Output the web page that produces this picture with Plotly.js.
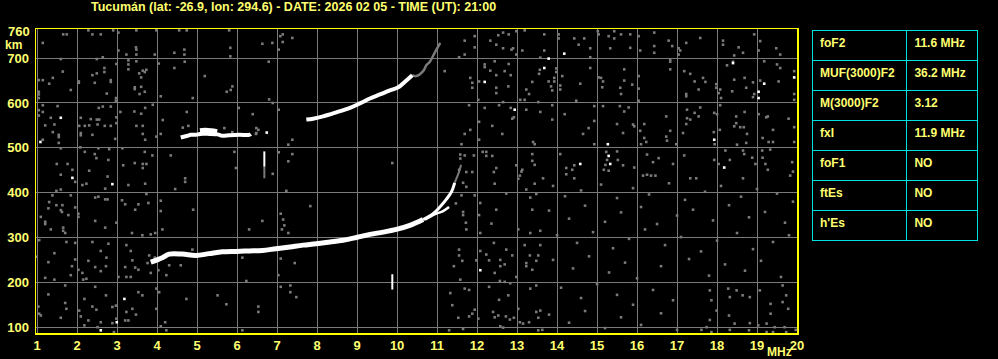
<!DOCTYPE html>
<html><head><meta charset="utf-8">
<script src="https://cdn.plot.ly/plotly-3.0.1.min.js"></script>
<style>html,body{margin:0;padding:0;background:#000;}</style>
</head><body><div id="chart" style="width:998px;height:359px;"></div>
<script>
// ---- data (frequency MHz, virtual height km) ----
var titleText = "Tucumán (lat: -26.9, lon: 294.6) - DATE: 2026 02 05 - TIME (UT): 21:00";
var xTicks = [1,2,3,4,5,6,7,8,9,10,11,12,13,14,15,16,17,18,19,20];
var yTicks = [100,200,300,400,500,600,700];

// ordinary F2 trace (main thick part)
var oF = [3.84,4.13,4.30,4.63,4.97,5.30,5.63,5.97,6.30,6.63,6.97,7.32,7.65,7.98,8.32,8.65,8.98,9.32,9.65,9.98,10.32,10.65];
var oH = [245,255,263,263,260,264,268,269,270,271,275,279,283,286,290,294,300,307,312,318,327,340];
// upper branch near critical frequency
var o2F = [10.65,10.90,11.07,11.23,11.36,11.44];
var o2H = [340,353,368,385,402,422];
// faint top end
var o3F = [11.44,11.50,11.55,11.60];
var o3H = [422,435,447,462];
// lower (extraordinary) branch
var xF = [10.70,10.82,10.98,11.15,11.30];
var xH = [340,346,353,359,368];
// second hop trace
var mF = [7.73,7.90,8.15,8.48,8.82,9.07,9.32,9.57,9.82,10.03,10.19,10.38];
var mH = [563,565,570,579,589,599,610,619,628,635,647,662];
var m2F = [10.38,10.48,10.65,10.73,10.82,10.94,11.08];
var m2H = [662,660,671,684,692,712,734];
// trace near 530 km
var eF = [4.59,4.76,4.84,4.97,5.07,5.30,5.51,5.63,5.80,6.05,6.30,6.34];
var eH = [523,527,529,529,531,531,530,527,528,529,529,531];
var e2F = [5.07,5.20,5.35,5.50];
var e2H = [538,539,538,536];
// vertical echoes
var v1F = [6.68,6.68];
var v1H = [458,492];
var v1gF = [6.68,6.68];
var v1gH = [432,458];
var v2F = [9.88,9.88];
var v2H = [184,218];

// gray noise
var nF = [1.65,1.74,2.28,2.38,2.59,2.90,3.03,3.48,3.98,4.55,4.74,5.80,7.14,7.08,1.14,3.47,3.48,3.03,3.23,3.48,3.94,4.43,4.68,4.68,5.83,6.63,6.88,7.14,7.04,5.83,
1.59,2.49,2.64,3.28,3.28,3.28,3.48,2.98,4.04,4.69,4.43,6.79,1.64,2.68,2.68,2.49,2.38,2.04,2.04,2.44,2.84,2.84,3.55,3.60,3.64,3.73,3.69,1.39,1.14,1.30,1.04,5.19,
3.44,3.44,3.60,3.69,3.56,1.04,1.04,1.04,1.84,2.74,4.09,4.89,5.88,5.84,5.74,6.80,6.89,2.97,2.97,1.14,1.51,2.54,2.64,2.84,3.89,3.08,3.43,3.60,3.70,1.04,1.14,1.04,1.34,
2.09,2.34,2.49,2.55,2.98,2.98,4.74,4.14,6.04,6.39,7.04,1.20,1.43,2.05,2.19,2.30,2.51,2.69,2.84,3.48,3.64,4.64,4.78,5.68,6.48,6.48,6.53,1.39,1.54,1.54,1.14,2.09,2.09,2.38,3.64,3.70,2.95,3.98,4.09,5.88,6.47,
1.54,1.59,2.08,2.53,2.80,3.13,3.69,3.88,4.34,2.19,2.44,2.48,2.78,1.49,1.76,2.30,1.88,1.59,2.76,3.15,3.44,3.64,3.73,3.64,4.70,5.93,7.04,6.89,7.28,7.28,5.97,
7.38,11.69,11.94,11.94,12.33,12.53,12.65,12.79,12.98,13.19,12.48,12.65,12.86,12.90,12.98,13.13,11.69,11.55,13.58,12.19,12.19,12.33,12.44,12.48,12.69,12.79,12.84,13.57,13.55,13.38,11.19,11.83,11.88,11.88,12.05,12.48,12.48,12.78,13.23,13.30,13.08,13.19,13.53,12.65,12.55,12.84,12.88,12.92,13.23,13.58,12.03,11.80,12.19,12.05,12.38,12.63,11.83,11.69,11.61,12.05,13.40,13.44,7.38,7.38,9.88,11.58,11.58,11.69,11.92,12.14,12.23,12.23,12.38,13.38,13.38,13.44,12.48,12.42,13.13,13.11,13.07,12.98,11.55,11.73,11.88,13.65,13.03,
13.68,14.04,14.04,14.43,14.54,14.68,14.83,15.02,15.04,15.29,15.43,15.43,15.60,15.83,15.83,15.33,16.08,16.04,16.43,16.43,16.43,16.79,16.88,17.04,17.08,17.04,17.23,17.58,18.15,18.15,18.54,18.43,18.65,18.93,19.08,19.04,19.48,19.58,13.68,
13.98,13.98,13.79,13.93,13.93,13.85,13.88,14.08,14.08,14.13,14.58,14.83,14.83,15.04,15.10,15.13,15.15,15.58,15.68,15.68,15.88,15.60,16.04,16.04,16.04,16.83,16.83,16.83,17.18,17.33,17.44,17.54,17.65,17.71,17.23,17.23,17.98,17.98,18.08,18.10,18.04,18.25,18.40,18.43,18.38,18.69,18.73,18.90,18.93,18.90,19.18,19.08,19.50,19.58,19.54,19.93,19.93,19.93,
14.48,14.19,13.88,13.88,14.93,14.93,14.79,14.65,14.93,15.15,15.57,15.68,15.79,15.50,15.65,15.90,15.93,16.08,16.18,16.18,16.10,16.23,16.73,16.83,16.73,16.75,16.98,17.15,17.25,17.25,17.33,17.23,17.44,17.54,17.58,17.93,18.00,17.92,18.07,17.94,18.08,18.48,18.48,18.43,18.58,18.67,18.69,18.75,18.73,18.50,19.04,19.23,19.27,19.79,19.93,19.40,19.14,19.29,19.40,19.93,
14.08,14.43,14.23,14.38,14.23,14.43,15.23,15.25,15.21,15.50,15.52,15.65,15.17,15.29,15.93,16.25,16.40,16.54,16.15,16.25,16.35,16.46,16.90,17.18,17.33,17.48,17.93,18.04,18.21,18.32,18.65,18.68,18.88,18.96,19.13,19.33,19.14,19.21,19.27,19.88,19.90,19.83,18.65,
1.95,2.13,2.23,2.70,3.28,3.70,4.45,4.70,1.38,1.48,1.84,1.59,2.53,2.45,2.70,2.76,3.12,3.73,4.09,1.30,1.48,1.63,1.59,1.62,1.28,1.95,2.03,2.03,1.78,1.09,1.20,1.20,1.34,1.65,1.65,1.70,2.45,2.70,2.98,3.20,3.45,3.53,3.78,4.09,4.13,3.37,3.63,3.84,3.95,4.90,6.63,6.30,7.09,7.15,7.18,7.12,7.28,
1.05,1.73,1.95,2.38,2.78,3.23,1.43,1.28,0.98,1.87,1.84,1.43,1.20,1.95,2.03,2.13,2.23,2.15,2.28,2.45,2.59,2.59,2.73,2.72,3.03,3.20,3.23,3.34,3.34,3.38,3.45,3.53,3.80,3.76,3.84,3.94,4.03,4.23,4.30,4.59,4.88,5.32,6.13,7.09,7.03,6.23,7.09,
1.70,1.28,1.03,1.05,1.09,1.59,1.70,1.73,2.05,2.09,2.18,2.28,2.45,2.38,2.48,2.51,2.59,2.72,2.88,2.97,2.98,2.88,2.92,3.23,3.20,3.28,3.38,3.47,3.53,3.63,3.98,3.98,4.05,4.09,4.20,4.23,5.51,5.73,6.13,6.53,6.53,7.23,2.18,4.73,
7.83,7.44,7.33,7.33,7.48,11.65,11.73,11.94,11.61,11.47,11.65,11.65,11.72,11.73,12.08,12.05,12.08,12.36,12.48,12.44,12.73,13.23,13.44,13.48,13.33,13.38,13.03,13.33,13.58,12.42,12.73,12.88,13.19,13.32,13.53,13.58,11.55,11.55,11.63,11.42,11.98,12.08,12.23,12.30,12.58,12.58,12.69,12.44,12.57,12.69,12.83,12.98,13.23,13.23,13.38,13.48,13.33,13.48,11.58,11.69,11.80,12.30,12.55,12.78,13.03,12.92,13.07,13.48,13.53,13.58,12.40,12.44,12.53,12.72,12.58,12.65,11.88,11.80,11.53,11.38,11.33,11.94,11.65,12.03,11.30,12.82,13.15,13.30,13.53,13.63,
13.9,14.2,14.6,15.1,15.5,15.9,16.3,16.8,17.2,17.7,18.1,18.6,19.0,19.5,19.9,13.8,14.3,14.7,15.2,15.6,16.1,16.5,17.0,17.4,17.9,18.3,18.8,19.2,19.7,
14.0,14.5,14.9,15.4,15.8,16.2,16.7,17.1,17.6,18.0,18.5,18.9,19.4,19.8,13.9,14.4,14.8,15.3,15.7,16.0,16.6,17.3,17.8,18.2,18.7,19.1,19.6,
14.1,14.6,15.0,15.5,15.9,16.4,16.9,13.8,14.3,14.7,15.2,15.6,16.1,16.6,17.0,
17.82,17.86,17.99,18.28,18.32,18.49,18.64,18.82,19.07,19.34,19.34,19.64,19.64,19.73,19.78,17.82,17.74,18.30,18.44,18.82,19.03,19.24,19.44,19.69,19.97,17.61,17.86,18.32,18.80,19.24,19.40,19.73];
var nH = [753,753,762,753,753,762,757,762,762,762,762,762,753,749,734,724,719,717,708,708,708,712,719,708,723,732,734,736,719,704,
698,698,702,695,686,675,693,687,688,692,678,692,670,678,669,666,662,648,645,645,651,647,666,657,672,674,669,656,651,643,651,660,
635,631,636,625,620,625,619,611,629,621,615,611,637,629,625,608,600,605,611,595,593,589,592,592,596,580,581,576,589,584,580,572,567,
567,564,563,563,568,555,580,562,589,575,585,550,552,549,549,550,552,549,549,549,549,545,549,544,544,533,540,535,529,524,518,533,528,529,531,518,520,525,531,535,531,
511,499,501,499,497,499,491,483,483,491,486,477,473,464,464,449,451,440,436,461,466,464,464,455,432,491,490,442,507,470,455,
745,739,749,724,739,751,757,753,760,762,730,722,719,722,708,717,708,702,701,686,680,672,693,662,671,687,662,674,665,647,671,656,645,634,648,634,622,637,630,620,607,607,602,602,595,589,565,568,585,580,607,595,589,558,549,531,540,531,508,518,513,508,518,486,466,485,476,483,483,491,491,482,482,486,471,462,455,446,451,447,438,461,451,446,446,432,431,
753,753,744,744,730,744,722,760,753,749,760,744,753,753,723,722,717,749,757,727,712,739,727,722,717,708,734,745,739,730,724,706,712,753,738,717,722,708,717,
677,669,648,648,656,637,628,639,630,660,643,702,678,657,656,635,648,634,675,650,641,620,660,632,605,697,692,675,671,665,648,630,656,647,620,615,642,634,630,611,622,684,692,652,626,656,634,646,620,613,693,650,686,678,648,671,620,607,
605,575,595,563,593,560,544,531,508,593,593,581,590,553,533,552,548,538,553,522,508,513,570,538,525,516,508,533,585,566,563,553,578,570,590,578,575,535,540,508,595,570,555,548,546,546,580,531,511,507,575,568,570,565,546,540,522,513,513,513,
486,461,455,451,441,432,491,473,462,492,473,461,451,449,456,485,468,477,438,440,438,438,464,483,432,432,473,464,494,473,494,486,478,464,494,496,478,464,451,468,447,438,432,
424,417,420,409,417,420,408,424,394,404,394,407,391,389,385,385,383,397,382,379,372,372,361,357,365,367,353,346,350,346,335,330,318,322,315,310,337,322,333,374,362,374,377,359,318,310,305,307,310,362,337,318,353,340,327,318,310,
294,290,288,290,286,283,265,245,257,236,216,206,210,251,228,221,208,206,248,234,225,270,255,236,212,234,212,212,270,249,233,228,260,243,221,255,227,216,238,238,273,265,255,253,216,203,190,
193,173,146,130,126,121,154,141,137,124,104,115,190,146,139,100,111,171,145,148,119,109,89,134,115,115,141,128,178,171,141,186,178,102,111,93,171,151,93,146,134,404,163,163,
370,243,193,178,167,422,413,394,394,376,357,350,333,318,377,350,310,331,362,420,398,407,420,397,389,362,318,310,315,288,273,260,283,260,260,283,273,260,248,236,249,270,262,249,250,236,240,221,203,201,198,212,243,236,228,248,186,193,206,186,183,190,161,171,141,121,111,134,121,137,134,122,126,124,102,99,130,124,121,149,176,139,96,119,93,117,108,111,93,94,
415,392,405,418,388,410,396,421,384,402,415,391,408,398,380,360,342,371,335,356,368,330,349,362,338,372,345,357,333,
305,288,312,276,297,318,283,301,269,293,310,274,290,305,250,231,258,222,244,209,236,252,215,240,226,248,212,
188,165,196,172,150,183,160,128,110,136,98,122,105,131,94,
182,160,137,186,167,182,171,167,182,152,130,193,156,171,141,116,100,126,108,109,104,108,100,100,94,94,89,94,93,89,89,89];

// white noise points
var wF = [1.59,1.08,1.88,6.74,12.19,12.94,14.18,13.79,13.68,15.27,17.93,18.40,19.18,19.04,19.04,19.93,15.29,15.33,14.58,18.18,2.88,3.18,2.99,2.59,12.08];
var wH = [567,513,433,534,647,585,710,699,678,508,518,689,643,625,611,657,482,464,464,456,419,163,111,93,227];

// parameter table
var params = ["foF2","MUF(3000)F2","M(3000)F2","fxI","foF1","ftEs","h'Es"];
var pvals = ["11.6 MHz","36.2 MHz","3.12","11.9 MHz","NO","NO","NO"];

// ---- styling ----
var YEL = "#ffff70";
var GRAY = "#7a7a7a";
var FONT = "Liberation Sans";
var NB = function(s){ return s.replace(/ /g, "\u00a0"); };

function lineTrace(x, y, w, col){
  return {x:x, y:y, type:"scatter", mode:"lines", line:{color:col, width:w, shape:"spline"}, hoverinfo:"skip", showlegend:false, xaxis:"x", yaxis:"y"};
}

var cellFont = {family:FONT, size:12, color:YEL, weight:"bold"};
var traces = [
  {x:nF, y:nH, type:"scatter", mode:"markers", marker:{symbol:"square", size:2.6, color:GRAY, line:{width:0}}, hoverinfo:"skip", showlegend:false},
  {x:wF, y:wH, type:"scatter", mode:"markers", marker:{symbol:"square", size:2.6, color:"#ffffff", line:{width:0}}, hoverinfo:"skip", showlegend:false},
  lineTrace(m2F, m2H, 2.5, GRAY),
  lineTrace(mF, mH, 4, "#ffffff"),
  lineTrace(eF, eH, 4, "#ffffff"),
  lineTrace(e2F, e2H, 5, "#ffffff"),
  lineTrace(v1gF, v1gH, 2, GRAY),
  lineTrace(v1F, v1H, 2, "#ffffff"),
  lineTrace(v2F, v2H, 2, "#ffffff"),
  lineTrace(o3F, o3H, 2, GRAY),
  lineTrace(oF, oH, 5, "#ffffff"),
  lineTrace(o2F, o2H, 3, "#ffffff"),
  lineTrace(xF, xH, 2.5, "#ffffff"),
  {
    type:"table",
    domain:{x:[812/998, 978/998], y:[1-244/359, 1-30/359]},
    columnwidth:[95,71],
    header:{
      values:[params[0], NB(pvals[0])],
      height:30, align:"left",
      line:{color:"#00e0e0", width:1},
      fill:{color:"#000000"},
      font:cellFont
    },
    cells:{
      values:[params.slice(1), pvals.slice(1).map(NB)],
      height:30,
      align:"left",
      line:{color:"#00e0e0", width:1},
      fill:{color:"#000000"},
      font:cellFont
    }
  }
];

var layout = {
  width:998, height:359,
  paper_bgcolor:"#000", plot_bgcolor:"#000",
  margin:{l:0, r:0, t:0, b:0},
  showlegend:false,
  title:{text:titleText, x:91/998, xanchor:"left", y:1-7/359, yanchor:"middle",
         font:{family:FONT, size:12.5, color:YEL, weight:"bold"}},
  xaxis:{domain:[36/998, 797/998], range:[0.97, 20.0], tickvals:xTicks, ticktext:xTicks.map(String),
         showgrid:true, gridcolor:GRAY, gridwidth:1, zeroline:false,
         showline:true, mirror:true, linecolor:"#ffff00", linewidth:1.5,
         ticks:"", tickfont:{family:FONT, size:13, color:YEL, weight:"bold"}, fixedrange:true},
  yaxis:{domain:[1-333/359, 1-29/359], range:[87, 765], tickvals:yTicks, ticktext:yTicks.map(String),
         showgrid:true, gridcolor:GRAY, gridwidth:1, zeroline:false,
         showline:true, mirror:true, linecolor:"#ffff00", linewidth:1.5,
         ticks:"", ticklabelstandoff:3, tickfont:{family:FONT, size:13, color:YEL, weight:"bold"}, fixedrange:true},
  annotations:[
    {text:"760", xref:"paper", yref:"y", x:32/998, y:760, xanchor:"right", yanchor:"middle", showarrow:false,
     font:{family:FONT, size:13, color:YEL, weight:"bold"}},
    {text:"km", xref:"paper", yref:"paper", x:13/998, y:1-45/359, xanchor:"center", yanchor:"middle", showarrow:false,
     font:{family:FONT, size:12, color:YEL, weight:"bold"}},
    {text:"MHz", xref:"paper", yref:"paper", x:779/998, y:1-352/359, xanchor:"center", yanchor:"middle", showarrow:false,
     font:{family:FONT, size:12, color:YEL, weight:"bold"}}
  ]
};

Plotly.newPlot("chart", traces, layout, {displayModeBar:false, staticPlot:true});
</script></body></html>
